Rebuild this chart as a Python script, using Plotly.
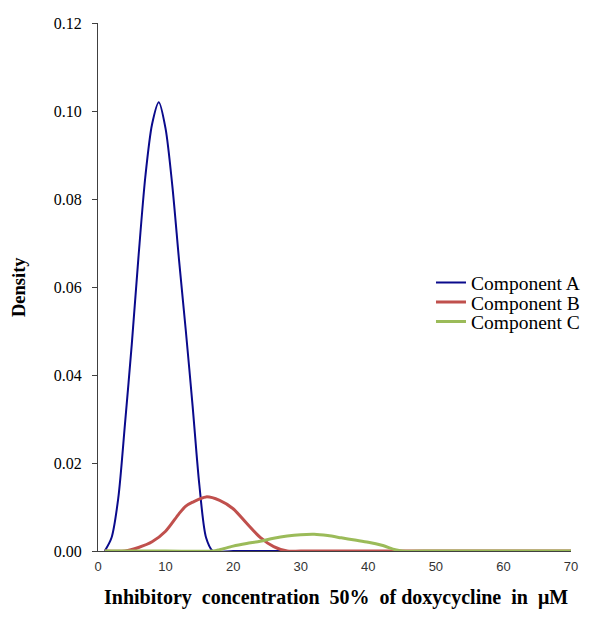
import plotly.graph_objects as go

# Component A
a_x = [1, 2, 3, 4, 5, 6, 7, 8, 9, 10, 11, 12, 13, 14, 15, 16, 17, 20, 30, 40, 50, 60, 70]
a_y = [0.0, 0.003, 0.012, 0.029, 0.047, 0.067, 0.085, 0.097, 0.102, 0.096, 0.083, 0.066, 0.050, 0.033, 0.015, 0.003, 0.0,
       0.0, 0.0, 0.0, 0.0, 0.0, 0.0]
# Component B
b_x = [1, 4, 6, 8, 10, 12, 13, 14, 16, 18, 20, 22, 24, 26, 28, 30, 40, 50, 60, 70]
b_y = [0.0, 0.0, 0.0008, 0.0021, 0.0045, 0.0085, 0.0102, 0.0111, 0.0123, 0.0115, 0.0096, 0.0063, 0.0031, 0.0010, 0.0,
       0.0, 0.0, 0.0, 0.0, 0.0]
# Component C
c_x = [1, 10, 17, 18, 20, 22, 24, 26, 28, 30, 32, 34, 36, 38, 40, 42, 44, 45, 50, 60, 70]
c_y = [0.0, 0.0, 0.0, 0.0003, 0.0011, 0.0017, 0.0022, 0.0029, 0.0034, 0.0037, 0.0038, 0.0035, 0.0030, 0.0025, 0.0020, 0.0013, 0.0003, 0.0,
       0.0, 0.0, 0.0]

names = ["Component A", "Component B", "Component C"]
colors = ["#0A0A8C", "#C0504D", "#9BBB59"]
widths = [2, 3, 3]

x_ticks = [0, 10, 20, 30, 40, 50, 60, 70]
y_ticks = [0.0, 0.02, 0.04, 0.06, 0.08, 0.10, 0.12]
y_tick_text = ["0.00", "0.02", "0.04", "0.06", "0.08", "0.10", "0.12"]

SERIF = "Liberation Serif, Times New Roman, serif"
legend_ids = ["legend", "legend2", "legend3"]
legend_y = [0.508, 0.471, 0.434]

fig = go.Figure()
for xs, ys, n, c, w, lg in zip([a_x, b_x, c_x], [a_y, b_y, c_y], names, colors, widths, legend_ids):
    fig.add_trace(go.Scatter(x=xs, y=ys, name=n, mode="lines", legend=lg,
                             line=dict(color=c, width=w, shape="spline", smoothing=0.8)))

legend_common = dict(x=0.704, xanchor="left", yanchor="middle",
                     font=dict(family=SERIF, size=19.5, color="black"),
                     bgcolor="rgba(0,0,0,0)", itemwidth=30)

fig.update_layout(
    width=592, height=613,
    paper_bgcolor="white", plot_bgcolor="white",
    margin=dict(l=90, r=29, t=15, b=70),
    showlegend=True,
    legend=dict(y=legend_y[0], **legend_common),
    legend2=dict(y=legend_y[1], **legend_common),
    legend3=dict(y=legend_y[2], **legend_common),
    xaxis=dict(range=[0, 70], tickvals=x_ticks, showgrid=False, zeroline=False, automargin=False,
               showline=True, linecolor="#404040", linewidth=1, ticks="", ticklabelstandoff=3,
               tickfont=dict(family="Liberation Sans, Arial, sans-serif", size=13, color="#333333")),
    yaxis=dict(range=[0, 0.12], tickvals=y_ticks, ticktext=y_tick_text, showgrid=False, zeroline=False,
               automargin=False, ticklabelstandoff=7,
               showline=True, linecolor="#404040", linewidth=1, ticks="outside", ticklen=5, tickcolor="#404040",
               tickfont=dict(family=SERIF, size=16, color="black")),
    annotations=[
        dict(text="<b>Inhibitory  concentration  50%  of doxycycline  in  μM</b>",
             xref="paper", yref="paper", x=0.503, y=-0.088, xanchor="center", yanchor="middle",
             showarrow=False, font=dict(family=SERIF, size=20, color="black")),
        dict(text="<b>Density</b>", textangle=-90,
             xref="paper", yref="paper", x=-0.167, y=0.5, xanchor="center", yanchor="middle",
             showarrow=False, font=dict(family=SERIF, size=18.5, color="black")),
    ],
)

fig.write_html("out.html")
